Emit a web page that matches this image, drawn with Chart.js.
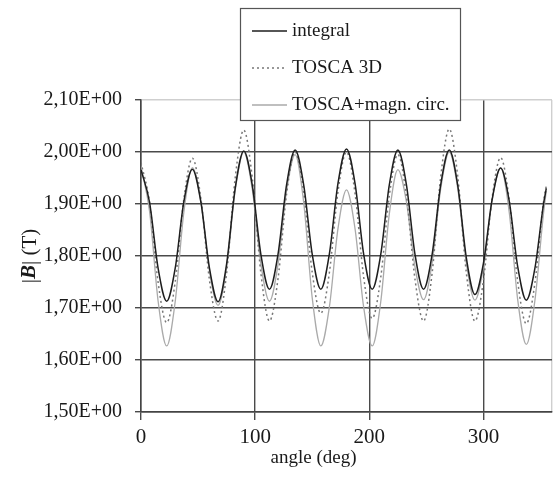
<!DOCTYPE html>
<html><head><meta charset="utf-8">
<script src="https://cdn.jsdelivr.net/npm/chart.js@4/dist/chart.umd.min.js"></script>
<style>html,body{margin:0;padding:0;background:#fff;overflow:hidden}</style>
</head><body>
<canvas id="c" width="557" height="488"></canvas>
<script>
const angles = [0,7.5,15,22.5,30,37.5,45,52.5,60,67.5,75,82.5,90,97.5,105,112.5,120,127.5,135,142.5,150,157.5,165,172.5,180,187.5,195,202.5,210,217.5,225,232.5,240,247.5,255,262.5,270,277.5,285,292.5,300,307.5,315,322.5,330,337.5,345,352.5,355];
const integral = [1.966,1.903,1.776,1.713,1.777,1.904,1.967,1.903,1.776,1.712,1.785,1.930,2.002,1.936,1.803,1.736,1.803,1.937,2.004,1.937,1.803,1.736,1.804,1.939,2.006,1.939,1.804,1.736,1.803,1.937,2.004,1.937,1.803,1.736,1.803,1.937,2.004,1.935,1.796,1.726,1.787,1.908,1.969,1.906,1.779,1.715,1.776,1.899,1.930];
const tosca3D = [1.980,1.903,1.749,1.672,1.751,1.909,1.988,1.910,1.753,1.675,1.767,1.950,2.042,1.950,1.767,1.675,1.756,1.919,2.000,1.923,1.768,1.690,1.768,1.923,2.000,1.920,1.760,1.680,1.759,1.916,1.995,1.915,1.755,1.675,1.767,1.952,2.044,1.952,1.767,1.675,1.754,1.911,1.989,1.909,1.750,1.670,1.748,1.903,1.935];
const toscaMagn = [1.972,1.886,1.713,1.627,1.713,1.884,1.970,1.904,1.771,1.705,1.779,1.926,2.000,1.928,1.785,1.713,1.784,1.925,1.995,1.903,1.719,1.627,1.702,1.852,1.927,1.852,1.702,1.627,1.712,1.881,1.966,1.904,1.779,1.716,1.787,1.929,2.000,1.929,1.786,1.715,1.779,1.906,1.970,1.885,1.715,1.630,1.714,1.881,1.925];
const seriesLabels = ['integral','TOSCA 3D','TOSCA+magn. circ.'];
const xTickValues = [0,100,200,300];
const yTickValues = [1.5,1.6,1.7,1.8,1.9,2.0,2.1];
const yTickLabels = ['1,50E+00','1,60E+00','1,70E+00','1,80E+00','1,90E+00','2,00E+00','2,10E+00'];
const xTitle = 'angle (deg)';
const yTitleParts = ['|','B','| (T)'];

const serif = '"Liberation Serif", "Times New Roman", serif';
const pts = arr => angles.map((a,i)=>({x:a,y:arr[i]}));

const overlay = {
  id:'overlay',
  afterDraw(chart){
    const ctx = chart.ctx, a = chart.chartArea;
    ctx.save();
    ctx.fillStyle = '#1a1a1a';
    // x title
    ctx.font = '19px ' + serif;
    ctx.textAlign = 'center'; ctx.textBaseline = 'middle';
    ctx.fillText(xTitle, (a.left + a.right)/2 - 33, a.bottom + 46);
    // y title (mixed styles)
    ctx.save();
    ctx.translate(30, (a.top + a.bottom)/2);
    ctx.rotate(-Math.PI/2);
    const fonts = ['21px ' + serif, 'italic bold 21px ' + serif, '21px ' + serif];
    let total = 0; const widths = [];
    yTitleParts.forEach((t,i)=>{ ctx.font = fonts[i]; const w = ctx.measureText(t).width; widths.push(w); total += w; });
    let x = -total/2;
    ctx.textAlign = 'left';
    yTitleParts.forEach((t,i)=>{ ctx.font = fonts[i]; ctx.fillText(t, x, 0); x += widths[i]; });
    ctx.restore();
    // legend box
    const bx = a.left + 99, by = 8, bw = 220, bh = 112;
    ctx.fillStyle = '#fff';
    ctx.fillRect(bx, by, bw, bh);
    ctx.strokeStyle = '#555'; ctx.lineWidth = 1.2;
    ctx.strokeRect(bx + 0.5, by + 0.5, bw, bh);
    ctx.font = '19px ' + serif;
    ctx.textAlign = 'left'; ctx.textBaseline = 'middle';
    chart.data.datasets.forEach((ds,i)=>{
      const yy = by + 23 + i*37;
      ctx.beginPath();
      ctx.strokeStyle = ds.borderColor; ctx.lineWidth = ds.borderWidth;
      ctx.setLineDash(ds.borderDash || []);
      ctx.moveTo(bx + 12, yy); ctx.lineTo(bx + 47, yy); ctx.stroke();
      ctx.setLineDash([]);
      ctx.fillStyle = '#1a1a1a';
      ctx.fillText(ds.label, bx + 52, yy);
    });
    ctx.restore();
  }
};

new Chart(document.getElementById('c'), {
  type: 'line',
  data: { datasets: [
    { label: seriesLabels[0], data: pts(integral), borderColor:'#1e1e1e', borderWidth:1.5, pointRadius:0, cubicInterpolationMode:'monotone', fill:false },
    { label: seriesLabels[1], data: pts(tosca3D), borderColor:'#777', borderWidth:1.5, borderDash:[2,3], pointRadius:0, cubicInterpolationMode:'monotone', fill:false },
    { label: seriesLabels[2], data: pts(toscaMagn), borderColor:'#aaa', borderWidth:1.3, pointRadius:0, cubicInterpolationMode:'monotone', fill:false }
  ]},
  options: {
    responsive:false, animation:false, devicePixelRatio:1,
    layout:{ padding:{ top:100, right:2, bottom:0, left:0 } },
    plugins:{ legend:{display:false}, tooltip:{enabled:false} },
    scales:{
      x:{ type:'linear', min:0, max:360,
        afterBuildTicks: s => { s.ticks = xTickValues.concat([360]).map(v=>({value:v})); },
        afterFit: s => { s.height = 76; },
        ticks:{ autoSkip:false, maxRotation:0, padding:5, color:'#1a1a1a', font:{family:serif, size:21},
          callback: v => xTickValues.includes(v) ? String(v) : '' },
        grid:{ color: c => (c.tick && c.tick.value === 360) ? '#cfcfcf' : '#4a4a4a', lineWidth:1.4, tickLength:8,
          tickColor: c => (c.tick && c.tick.value === 360) ? 'rgba(0,0,0,0)' : '#4a4a4a' },
        border:{ display:true, color:'#444', width:1.5 }
      },
      y:{ type:'linear', min:1.5, max:2.1,
        afterBuildTicks: s => { s.ticks = yTickValues.map(v=>({value:v})); },
        afterFit: s => { s.width = 141; },
        ticks:{ padding:13, color:'#1a1a1a', font:{family:serif, size:20},
          callback: (v,i) => yTickLabels[i] },
        grid:{ color: c => (c.tick && Math.abs(c.tick.value - 2.1) < 1e-6) ? '#cfcfcf' : '#4a4a4a', lineWidth:1.4, tickLength:6,
          tickColor: '#4a4a4a' },
        border:{ display:true, color:'#444', width:1.5 }
      }
    }
  },
  plugins:[overlay]
});
</script>
</body></html>
